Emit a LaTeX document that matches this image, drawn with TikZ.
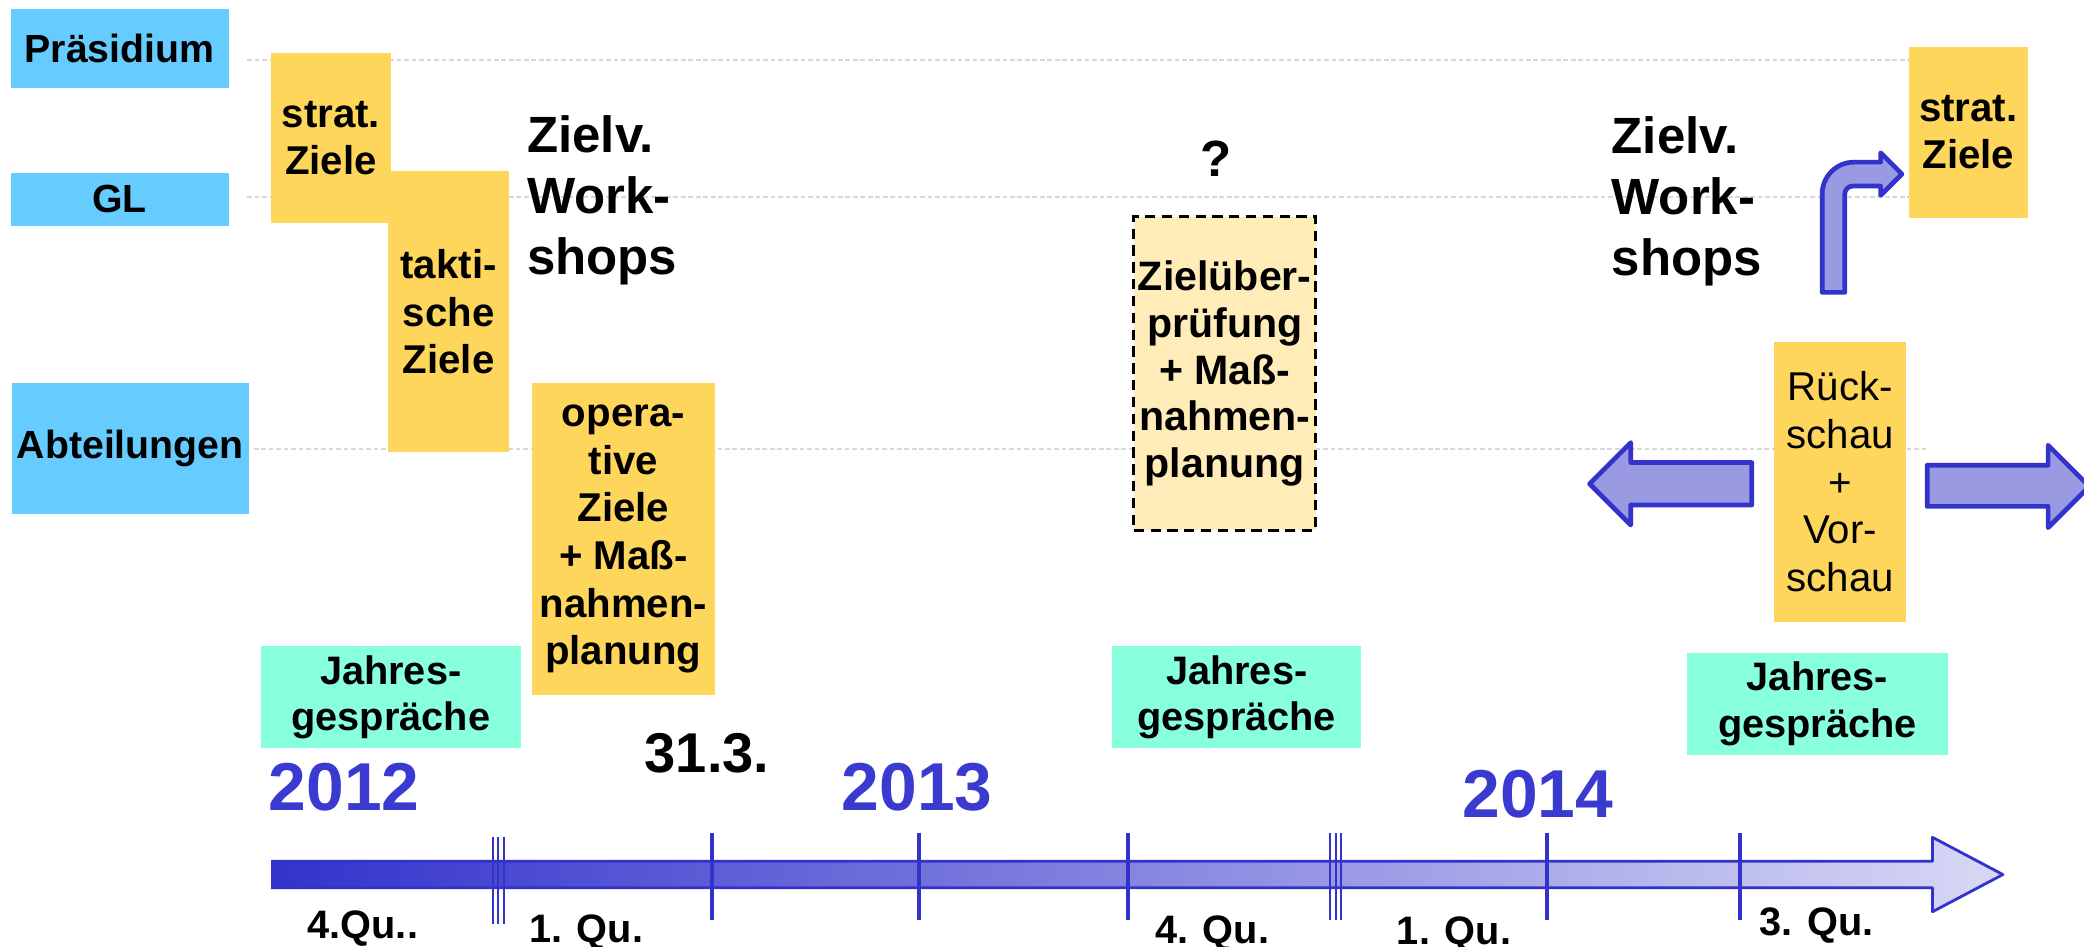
\documentclass[tikz,border=0pt]{standalone}
\usepackage{fontspec}
\setmainfont{Liberation Sans}
\definecolor{lvlblue}{HTML}{66CCFF}
\definecolor{goalyellow}{HTML}{FFD65C}
\definecolor{checkyellow}{HTML}{FFECB8}
\definecolor{talkgreen}{HTML}{88FFDD}
\definecolor{tlblue}{HTML}{3333CC}
\definecolor{tlmid}{HTML}{9999DD}
\definecolor{tllight}{HTML}{D8D8F5}
\definecolor{arrowfill}{HTML}{9A9AE2}
\definecolor{yearblue}{HTML}{3A3AD0}
\definecolor{guidegray}{HTML}{D8D8D8}
\tikzset{
  guide/.style={guidegray, line width=0.35pt, dash pattern=on 1pt off 0.6pt},
  lvl/.style={fill=lvlblue, inner sep=0pt, font=\bfseries\fontsize{8.4}{10}\selectfont},
  goal/.style={fill=goalyellow, inner sep=0pt, align=center, font=\bfseries\fontsize{8.6}{10.2}\selectfont},
  check/.style={fill=checkyellow, draw=black, dash pattern=on 2.2pt off 1.4pt, line width=0.6pt,
    inner sep=0pt, align=center, font=\bfseries\fontsize{8.8}{10}\selectfont},
  talk/.style={fill=talkgreen, inner sep=0pt, align=center, font=\bfseries\fontsize{8.5}{9.9}\selectfont},
  big/.style={inner sep=0pt, align=left, font=\bfseries\fontsize{10.9}{13.1}\selectfont},
  qu/.style={anchor=base, inner sep=0pt, font=\bfseries\fontsize{8.5}{10}\selectfont},
  yr/.style={anchor=base, inner sep=0pt, text=yearblue, font=\bfseries\fontsize{14.5}{16}\selectfont},
  tick/.style={tlblue, line width=0.85pt},
  ttick/.style={tlblue, line width=0.45pt},
  tl/.style={tlblue, line width=0.6pt, line join=round},
  blockarrow/.style={draw=tlblue, fill=arrowfill, line width=1pt, line join=round}
}
\newcommand\panel[7]{%
  \node[#1, minimum width={(#5-#3)*0.01cm}, minimum height={(#6-#4)*0.01cm}]
    (#2) at ({(#3+#5)/2},{(#4+#6)/2}) {#7};}

\begin{document}
\begin{tikzpicture}[x=0.01cm,y=-0.01cm]
  \useasboundingbox (0,0) rectangle (1568,712);
  \draw[guide] (186,45) -- (1436,45);
  \draw[guide] (186,148) -- (1436,148);
  \draw[guide] (191,338) -- (1451,338);

  \panel{lvl}{praes}{8}{7}{172}{66}{Präsidium}
  \panel{lvl}{gl}{8}{130}{172}{170}{GL}
  \panel{lvl}{abt}{9}{288}{187}{387}{Abteilungen}

  \panel{goal}{stratA}{204}{40}{294}{168}{strat.\\Ziele}
  \panel{goal}{takt}{292}{129}{383}{340}{takti-\\sche\\Ziele}
  \panel{goal}{oper}{400}{288}{538}{523}{opera-\\tive\\Ziele\\+ Maß-\\nahmen-\\planung}
  \panel{check}{pruef}{853}{163}{990}{399}{Zielüber-\\prüfung\\+ Maß-\\nahmen-\\planung}
  \panel{goal,font=\fontsize{8.6}{10.2}\selectfont}{rueck}{1335}{257}{1434}{468}{Rück-\\schau\\+\\Vor-\\schau}
  \panel{goal}{stratB}{1436}{35}{1526}{164}{strat.\\Ziele}

  \panel{talk}{jgA}{196}{486}{392}{563}{Jahres-\\gespräche}
  \panel{talk}{jgB}{837}{486}{1024}{563}{Jahres-\\gespräche}
  \panel{talk}{jgC}{1269}{491}{1466}{568}{Jahres-\\gespräche}

  \node[big, anchor=north west] (wsA) at (396,86) {Zielv.\\Work-\\shops};
  \node[big, anchor=north west] (wsB) at (1212,87) {Zielv.\\Work-\\shops};
  \node[big, anchor=base] (quest) at (915,133) {?};
  \node[big, anchor=base, font=\bfseries\fontsize{12}{14}\selectfont] (stichtag) at (532,581) {31.3.};

  \node[yr] (yA) at (259,610) {2012};
  \node[yr] (yB) at (690,610) {2013};
  \node[yr] (yC) at (1157,615) {2014};

  % Zeitstrahl
  \shade[left color=tlblue, middle color=tlmid, right color=tllight]
    (204,648) -- (1454,648) -- (1454,630) -- (1507,658) -- (1454,686) -- (1454,668) -- (204,668) -- cycle;
  \draw[tl] (204,648) -- (1454,648) -- (1454,630) -- (1507,658) -- (1454,686) -- (1454,668) -- (204,668);
  \foreach \x in {536,691.5,849,1164,1309}
    \draw[tick] (\x,627) -- (\x,692);
  \foreach \x in {371,375,379}
    \draw[ttick] (\x,630) -- (\x,695);
  \foreach \x in {1001,1005,1009}
    \draw[ttick] (\x,627) -- (\x,692);

  \node[qu] (q1) at (273,706.5) {4.Qu..};
  \node[qu] (q2) at (441,709.5) {1. Qu.};
  \node[qu] (q3) at (912,710) {4. Qu.};
  \node[qu] (q4) at (1094,711) {1. Qu.};
  \node[qu] (q5) at (1367,704) {3. Qu.};

  % Pfeile
  \draw[blockarrow] (1318,348) -- (1227,348) -- (1227,333) -- (1196,364) -- (1227,395) -- (1227,380) -- (1318,380) -- cycle;
  \draw[blockarrow] (1450,350) -- (1541,350) -- (1541,335) -- (1572,366) -- (1541,397) -- (1541,381) -- (1450,381) -- cycle;
  \draw[blockarrow] (1371,220) -- (1371,146) .. controls (1371,132.7) and (1381.7,122) .. (1395,122)
    -- (1415,122) -- (1415,115) -- (1431,131) -- (1415,147) -- (1415,140) -- (1394,140)
    .. controls (1390.7,140) and (1388,142.7) .. (1388,146) -- (1388,220) -- cycle;
\end{tikzpicture}
\end{document}
